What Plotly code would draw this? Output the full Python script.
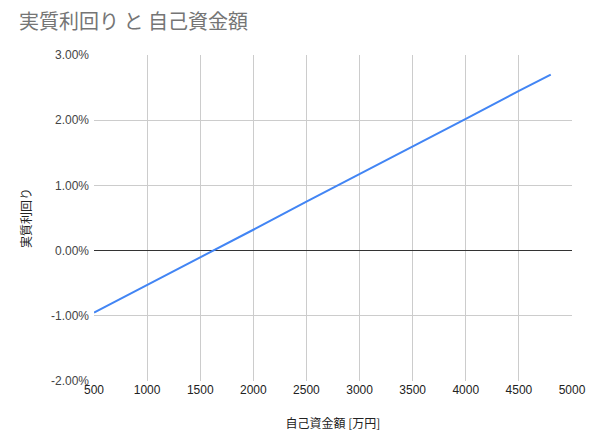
import plotly.graph_objects as go

# 自己資金額 [万円] vs 実質利回り (%)
equity = [500, 1000, 1500, 2000, 2500, 3000, 3500, 4000, 4500, 4800]
net_yield = [-0.95, -0.53, -0.10, 0.32, 0.75, 1.17, 1.60, 2.02, 2.45, 2.70]

x_ticks = [500, 1000, 1500, 2000, 2500, 3000, 3500, 4000, 4500, 5000]
y_ticks = [-2, -1, 0, 1, 2, 3]

JP_FONT = "Noto Sans CJK JP, Liberation Sans, Arial, sans-serif"
TICK_FONT = "Liberation Sans, Arial, sans-serif"

fig = go.Figure(go.Scatter(
    x=equity, y=net_yield, mode="lines",
    line={"color": "#4285F4", "width": 2},
    showlegend=False, hoverinfo="x+y",
))

fig.update_layout(
    width=591, height=444,
    margin={"l": 94, "r": 19, "t": 55, "b": 63},
    paper_bgcolor="white", plot_bgcolor="white",
    title={
        "text": "実質利回り と 自己資金額",
        "x": 0, "xref": "paper", "xanchor": "left",
        "y": 0.950, "yref": "container", "yanchor": "middle",
        "font": {"family": JP_FONT, "size": 20, "color": "#757575"},
        "pad": {"l": -75},
    },
    xaxis={
        "range": [500, 5000], "tickvals": x_ticks,
        "showgrid": True, "gridcolor": "#CCCCCC", "gridwidth": 1,
        "zeroline": False, "showline": False, "automargin": False,
        "tickfont": {"family": TICK_FONT, "size": 12, "color": "#222222"},
        "title": {"text": "自己資金額 [万円]", "standoff": 23,
                  "font": {"family": JP_FONT, "size": 12, "color": "#222222"}},
        "ticks": "",
    },
    yaxis={
        "range": [-2, 3], "tickvals": y_ticks,
        "ticktext": [f"{v:.2f}%" for v in y_ticks],
        "showgrid": True, "gridcolor": "#CCCCCC", "gridwidth": 1,
        "zeroline": True, "zerolinecolor": "#333333", "zerolinewidth": 1,
        "showline": False, "automargin": False,
        "tickfont": {"family": TICK_FONT, "size": 12, "color": "#444444"},
        "title": {"text": "実質利回り", "standoff": 16,
                  "font": {"family": JP_FONT, "size": 12, "color": "#222222"}},
        "ticks": "", "ticklabelstandoff": 4,
    },
)

# drop the browser's default body margin so the figure sits at the page corner
fig.write_html(
    "out.html",
    config={"displayModeBar": False},
    post_script="document.body.style.margin = '0';",
)
